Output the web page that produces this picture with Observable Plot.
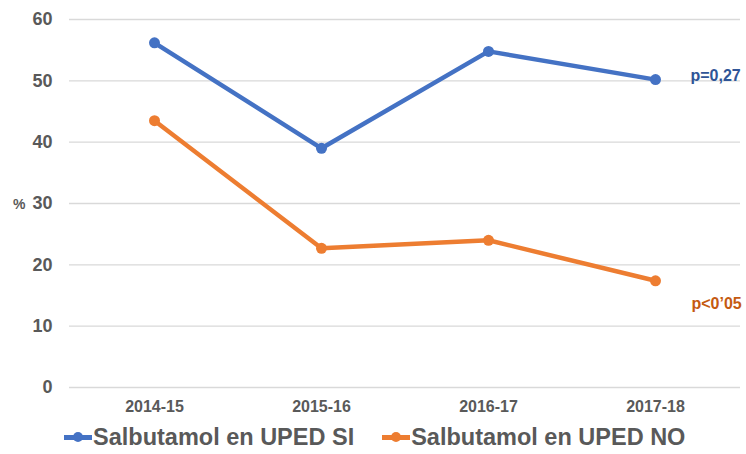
<!DOCTYPE html>
<html>
<head>
<meta charset="utf-8">
<script src="https://cdn.jsdelivr.net/npm/d3@7"></script>
<script src="https://cdn.jsdelivr.net/npm/@observablehq/plot@0.6"></script>
<style>
  body { margin: 0; background: #fff; font-family: "Liberation Sans", Arial, sans-serif; }
  #chart svg { display: block; }
  .legend { display: flex; height: 34px; align-items: center; padding-left: 64px; color: #595959; font-weight: bold; font-size: 23.5px; }
  .item { display: flex; align-items: center; margin-right: 28px; }
  .sw { position: relative; width: 28px; height: 12px; margin-right: 1px; }
  .sw .ln { position: absolute; left: 0; right: 0; top: 4px; height: 4.5px; }
  .sw .dt { position: absolute; left: 9px; top: 1px; width: 10px; height: 10px; border-radius: 50%; }
</style>
</head>
<body>
<div id="chart"></div>
<div class="legend" id="legend"></div>
<script>
const years = ["2014-15", "2015-16", "2016-17", "2017-18"];
const seriesNames = ["Salbutamol en UPED SI", "Salbutamol en UPED NO"];
const valuesSI = [56.2, 39.0, 54.8, 50.2];
const valuesNO = [43.5, 22.7, 24.0, 17.4];
const pLabels = ["p=0,27", "p<0\u201905"];
const yTicks = [0, 10, 20, 30, 40, 50, 60];

const colors = ["#4472C4", "#ED7D31"];
const pColors = ["#2F5597", "#C55A11"];

const data = [];
years.forEach((y, i) => data.push({year: y, value: valuesSI[i], series: seriesNames[0]}));
years.forEach((y, i) => data.push({year: y, value: valuesNO[i], series: seriesNames[1]}));

const lastYear = years[years.length - 1];
const annotSI = [{year: lastYear, value: valuesSI[3], text: pLabels[0]}];
const annotNO = [{year: lastYear, value: valuesNO[3], text: pLabels[1]}];

const chart = Plot.plot({
  width: 746,
  height: 420,
  marginTop: 19,
  marginBottom: 33,
  marginLeft: 69,
  marginRight: 6,
  style: {fontFamily: "'Liberation Sans', Arial, sans-serif", color: "#595959", background: "#fff", overflow: "visible"},
  x: {type: "point", domain: years, padding: 0.5, label: null},
  y: {domain: [0, 60], ticks: yTicks, label: null},
  color: {domain: seriesNames, range: colors},
  marks: [
    Plot.gridY(yTicks, {stroke: "#d9d9d9", strokeOpacity: 1, strokeWidth: 1.3}),
    Plot.axisY(yTicks, {tickSize: 0, tickPadding: 17, fontSize: 18, fontWeight: "bold", fill: "#595959", label: null}),
    Plot.axisX(years, {tickSize: 0, tickPadding: 13, fontSize: 16, fontWeight: "bold", fill: "#595959", label: null}),
    Plot.text([30], {y: d => d, frameAnchor: "left", dx: -44, dy: 1, text: () => "%", fontSize: 14, fontWeight: "bold", fill: "#595959", textAnchor: "end"}),
    Plot.line(data, {x: "year", y: "value", z: "series", stroke: "series", strokeWidth: 4.5, curve: "linear"}),
    Plot.dot(data, {x: "year", y: "value", fill: "series", r: 5.5, stroke: null}),
    Plot.text(annotSI, {x: "year", y: "value", text: "text", fill: pColors[0], dx: 35, dy: -4, textAnchor: "start", fontSize: 16, fontWeight: "bold"}),
    Plot.text(annotNO, {x: "year", y: "value", text: "text", fill: pColors[1], dx: 36, dy: 23, textAnchor: "start", fontSize: 16, fontWeight: "bold"})
  ]
});
document.getElementById("chart").appendChild(chart);

const legend = document.getElementById("legend");
seriesNames.forEach((name, i) => {
  const item = document.createElement("div");
  item.className = "item";
  item.innerHTML = `<div class="sw"><div class="ln" style="background:${colors[i]}"></div><div class="dt" style="background:${colors[i]}"></div></div><span>${name}</span>`;
  legend.appendChild(item);
});
</script>
</body>
</html>
